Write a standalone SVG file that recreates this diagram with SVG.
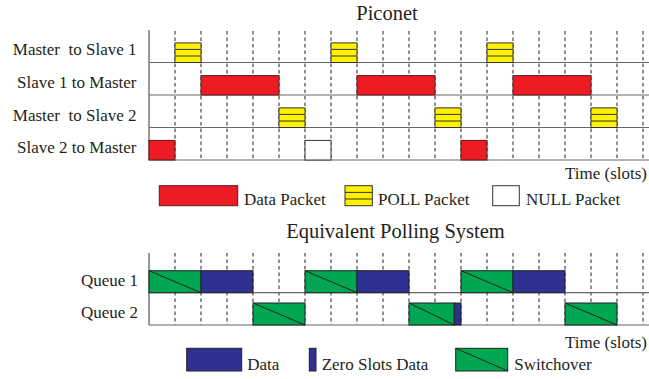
<svg xmlns="http://www.w3.org/2000/svg" width="649" height="379" viewBox="0 0 649 379">
  <style>
    text { font-family: "Liberation Serif", "Times New Roman", serif; fill: #231f20; white-space: pre; }
    .lbl { font-size: 17px; }
    .ttl { font-size: 20.5px; }
    .end { text-anchor: end; }
    .mid { text-anchor: middle; }
    .axis { stroke: #555; stroke-width: 1.2; fill: none; }
    .row { stroke: #666; stroke-width: 1.2; fill: none; }
    .dash { stroke: #333; stroke-width: 1.1; stroke-dasharray: 3.5 3; fill: none; }
    .data { fill: #ed1c24; stroke: #5a1a1a; stroke-width: 1; }
    .poll { fill: #fff200; stroke: #333; stroke-width: 1; }
    .null { fill: #ffffff; stroke: #333; stroke-width: 1; }
    .stripe { stroke: #333; stroke-width: 1; }
    .qdata { fill: #2e3192; stroke: #222; stroke-width: 1; }
    .sw { fill: #00a651; stroke: #222; stroke-width: 1; }
    .diag { stroke: #222; stroke-width: 1; }
  </style>
  <defs>
    <!-- POLL packet: one slot wide, three horizontal stripes -->
    <g id="pollPkt">
      <rect class="poll" x="0" y="0" width="26" height="19.6"/>
      <line class="stripe" x1="0" y1="6.5" x2="26" y2="6.5"/>
      <line class="stripe" x1="0" y1="13.1" x2="26" y2="13.1"/>
    </g>
    <!-- switchover: two slots wide with a diagonal -->
    <g id="swBox">
      <rect class="sw" x="0" y="0" width="52" height="22"/>
      <line class="diag" x1="0" y1="0" x2="52" y2="22"/>
    </g>
  </defs>

  <!-- ===== Piconet ===== -->
  <text class="ttl mid" x="387" y="19.5">Piconet</text>

  <g id="piconet-grid">
    <line class="axis" x1="149" y1="30" x2="149" y2="160"/>
    <g class="dash">
      <path d="M175 31V160M201 31V160M227 31V160M253 31V160M279 31V160M305 31V160M331 31V160M357 31V160M383 31V160M409 31V160M435 31V160M461 31V160M487 31V160M513 31V160M539 31V160M565 31V160M591 31V160M617 31V160M643 31V160"/>
    </g>
    <line class="row" x1="149" y1="62.5" x2="649" y2="62.5"/>
    <line class="row" x1="149" y1="95" x2="649" y2="95"/>
    <line class="row" x1="149" y1="127.5" x2="649" y2="127.5"/>
    <line class="row" x1="149" y1="160" x2="649" y2="160"/>
  </g>

  <g id="row-m-s1">
    <text class="lbl end" x="136.5" y="55" xml:space="preserve">Master  to Slave 1</text>
    <use href="#pollPkt" x="175" y="42.9"/>
    <use href="#pollPkt" x="331" y="42.9"/>
    <use href="#pollPkt" x="487" y="42.9"/>
  </g>
  <g id="row-s1-m">
    <text class="lbl end" x="136.5" y="88">Slave 1 to Master</text>
    <rect class="data" x="201" y="75.6" width="78" height="19.4"/>
    <rect class="data" x="357" y="75.6" width="78" height="19.4"/>
    <rect class="data" x="513" y="75.6" width="78" height="19.4"/>
  </g>
  <g id="row-m-s2">
    <text class="lbl end" x="136.5" y="120.5" xml:space="preserve">Master  to Slave 2</text>
    <use href="#pollPkt" x="279" y="107.9"/>
    <use href="#pollPkt" x="435" y="107.9"/>
    <use href="#pollPkt" x="591" y="107.9"/>
  </g>
  <g id="row-s2-m">
    <text class="lbl end" x="136.5" y="152.5">Slave 2 to Master</text>
    <rect class="data" x="149" y="140.4" width="26" height="19.6"/>
    <rect class="null" x="305" y="140.4" width="26" height="19.6"/>
    <rect class="data" x="461" y="140.4" width="26" height="19.6"/>
  </g>

  <text class="lbl" x="565" y="178.5">Time (slots)</text>

  <g id="legend-piconet">
    <rect class="data" x="159.3" y="185.7" width="78.4" height="20"/>
    <text class="lbl" x="244" y="205">Data Packet</text>
    <rect class="poll" x="345" y="185.7" width="27.3" height="20"/>
    <line class="stripe" x1="345" y1="192.4" x2="372.3" y2="192.4"/>
    <line class="stripe" x1="345" y1="199" x2="372.3" y2="199"/>
    <text class="lbl" x="378" y="205">POLL Packet</text>
    <rect class="null" x="492.7" y="185.7" width="26.6" height="20"/>
    <text class="lbl" x="526" y="205">NULL Packet</text>
  </g>

  <!-- ===== Equivalent polling system ===== -->
  <text class="ttl mid" x="395.5" y="237.5">Equivalent Polling System</text>

  <g id="polling-grid">
    <line class="axis" x1="149" y1="253" x2="149" y2="325"/>
    <g class="dash">
      <path d="M175 253V325M201 253V325M227 253V325M253 253V325M279 253V325M305 253V325M331 253V325M357 253V325M383 253V325M409 253V325M435 253V325M461 253V325M487 253V325M513 253V325M539 253V325M565 253V325M591 253V325M617 253V325M643 253V325"/>
    </g>
    <line class="row" x1="149" y1="292.7" x2="649" y2="292.7" stroke="#999"/>
    <line class="row" x1="149" y1="325" x2="649" y2="325"/>
  </g>

  <g id="queue-1">
    <text class="lbl end" x="138" y="286">Queue 1</text>
    <use href="#swBox" x="149" y="270.7"/>
    <rect class="qdata" x="201" y="270.7" width="52" height="22"/>
    <use href="#swBox" x="305" y="270.7"/>
    <rect class="qdata" x="357" y="270.7" width="52" height="22"/>
    <use href="#swBox" x="461" y="270.7"/>
    <rect class="qdata" x="513" y="270.7" width="52" height="22"/>
  </g>
  <g id="queue-2">
    <text class="lbl end" x="138" y="317.5">Queue 2</text>
    <use href="#swBox" x="253" y="303"/>
    <rect class="sw" x="409" y="303" width="45.3" height="22"/>
    <line class="diag" x1="409" y1="303" x2="454.3" y2="325"/>
    <rect class="qdata" x="454.3" y="303" width="6.7" height="22"/>
    <use href="#swBox" x="565" y="303"/>
  </g>

  <text class="lbl" x="565" y="348">Time (slots)</text>

  <g id="legend-polling">
    <rect class="qdata" x="186.7" y="348.3" width="55" height="22.7"/>
    <text class="lbl" x="247.3" y="370">Data</text>
    <rect class="qdata" x="309.3" y="348.3" width="6.7" height="22.7"/>
    <text class="lbl" x="321.7" y="370">Zero Slots Data</text>
    <rect class="sw" x="455.7" y="348.3" width="52" height="22.7"/>
    <line class="diag" x1="455.7" y1="348.3" x2="507.7" y2="371"/>
    <text class="lbl" x="514.3" y="370">Switchover</text>
  </g>
</svg>
